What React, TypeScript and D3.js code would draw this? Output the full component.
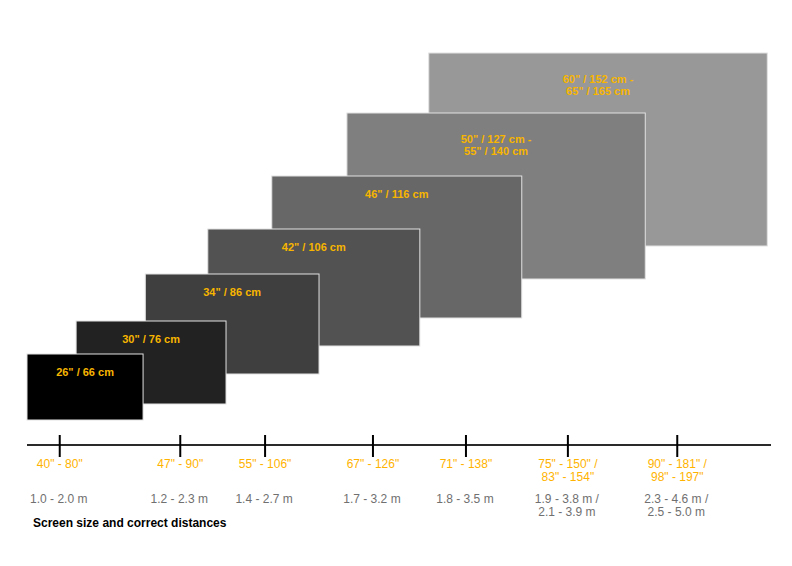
import React from "react";
import * as d3 from "d3";

const W = 792;
const H = 566;

// Screens (abstract chart units: x 0..100 along axis, y 0..100 above axis)
const screenLabels: string[][] = [
  ['26" / 66 cm'],
  ['30" / 76 cm'],
  ['34" / 86 cm'],
  ['42" / 106 cm'],
  ['46" / 116 cm'],
  ['50" / 127 cm -', '55" / 140 cm'],
  ['60" / 152 cm -', '65" / 165 cm'],
];
const screenLeft = [0, 6.6, 15.9, 24.3, 32.9, 43.0, 54.0];
const screenRight = [15.6, 26.75, 39.25, 52.8, 66.5, 83.1, 99.5];
const screenTop = [22.75, 31, 42.75, 54, 67.25, 83, 98];
const screenBottom = [6.25, 10.25, 17.75, 24.75, 31.75, 41.5, 49.75];
const screenColors = ["#000000", "#222222", "#3f3f3f", "#525252", "#676767", "#7f7f7f", "#989898"];

// Axis ticks
const tickPos = [4.4, 20.6, 32.0, 46.5, 59.0, 72.7, 87.4];
const sizeLabels: string[][] = [
  ['40" - 80"'],
  ['47" - 90"'],
  ['55" - 106"'],
  ['67" - 126"'],
  ['71" - 138"'],
  ['75" - 150" /', '83" - 154"'],
  ['90" - 181" /', '98" - 197"'],
];
const distanceLabels: string[][] = [
  ["1.0 - 2.0 m"],
  ["1.2 - 2.3 m"],
  ["1.4 - 2.7 m"],
  ["1.7 - 3.2 m"],
  ["1.8 - 3.5 m"],
  ["1.9 - 3.8 m /", "2.1 - 3.9 m"],
  ["2.3 - 4.6 m /", "2.5 - 5.0 m"],
];
const title = "Screen size and correct distances";

export default function App() {
  const x = d3.scaleLinear().domain([0, 100]).range([27, 771]);
  const y = d3.scaleLinear().domain([0, 100]).range([445, 45]);
  const axisY = y(0);
  const font = "'Liberation Sans', Arial, Helvetica, sans-serif";
  const order = d3.range(screenLeft.length).reverse();

  return (
    <svg
      width={W}
      height={H}
      style={{ position: "absolute", left: 0, top: 0, background: "#fff" }}
      fontFamily={font}
    >
      {order.map((i) => {
        const x0 = x(screenLeft[i]);
        const x1 = x(screenRight[i]);
        const y0 = y(screenTop[i]);
        const y1 = y(screenBottom[i]);
        const lines = screenLabels[i];
        const first = lines.length > 1 ? y0 + 30 : y0 + 22;
        return (
          <g key={i}>
            <rect
              x={x0}
              y={y0}
              width={x1 - x0}
              height={y1 - y0}
              fill={screenColors[i]}
              stroke="#e2e2e2"
              strokeWidth={1}
            />
            {lines.map((t, j) => (
              <text
                key={j}
                x={(x0 + x1) / 2}
                y={first + j * 12}
                textAnchor="middle"
                fontSize={11}
                fontWeight="bold"
                fill="#f7b500"
              >
                {t}
              </text>
            ))}
          </g>
        );
      })}

      <line x1={x(0)} x2={x(100)} y1={axisY} y2={axisY} stroke="#2a2a2a" strokeWidth={2} />
      {tickPos.map((p, i) => (
        <g key={i}>
          <line x1={x(p)} x2={x(p)} y1={axisY - 10} y2={axisY + 12} stroke="#000" strokeWidth={2} />
          {sizeLabels[i].map((t, j) => (
            <text
              key={"s" + j}
              x={x(p)}
              y={axisY + 23 + j * 13}
              textAnchor="middle"
              fontSize={12}
              fill="#ffb300"
            >
              {t}
            </text>
          ))}
          {distanceLabels[i].map((t, j) => (
            <text
              key={"d" + j}
              x={x(p) - 1}
              y={axisY + 58 + j * 12.5}
              textAnchor="middle"
              fontSize={12}
              fill="#707070"
            >
              {t}
            </text>
          ))}
        </g>
      ))}
      <text x={33} y={527} fontSize={12} fontWeight="bold" fill="#000">
        {title}
      </text>
    </svg>
  );
}
